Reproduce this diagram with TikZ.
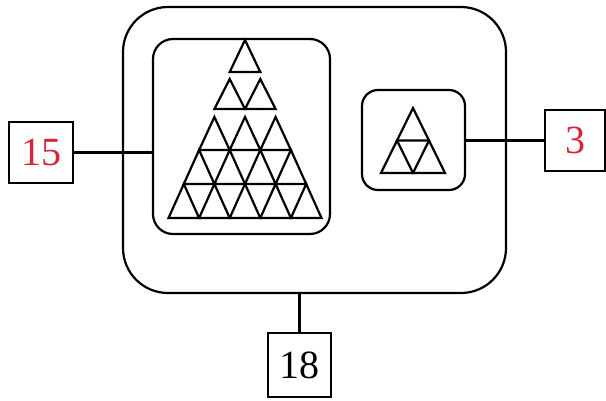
\documentclass[tikz,border=0pt]{standalone}
\usepackage{fontspec}
\setmainfont{Liberation Serif}
\definecolor{numred}{RGB}{212,38,58}
\begin{document}
\begin{tikzpicture}[x=1pt,y=1pt,yscale=-1,
	frame/.style={draw, line width=2.2pt, rounded corners=#1, inner sep=0pt},
	numbox/.style={draw, line width=2.1pt, inner sep=0pt, font=\fontsize{40}{40}\selectfont},
	tri/.style={line width=2.2pt, line join=miter},
	link/.style={line width=2.2pt}]
	\useasboundingbox (0,0) rectangle (606,400);
	% containers
	\node[frame=45pt, minimum width=383pt, minimum height=286pt] (outer) at (314.5,150) {};
	\node[frame=20pt, minimum width=177pt, minimum height=195pt] (bigset) at (241.5,136.5) {};
	\node[frame=16pt, minimum width=103pt, minimum height=100pt] (smallset) at (413.5,140) {};
	% number boxes
	\node[numbox, text=numred, minimum width=64pt, minimum height=61pt] (n15) at (41,152.5) {15};
	\node[numbox, text=numred, minimum width=60pt, minimum height=61pt] (n3) at (575,140.5) {3};
	\node[numbox, minimum width=63pt, minimum height=64pt] (n18) at (299.5,365) {18};
	% triangles, 15
	\foreach \k/\yb/\h in {1/72/32,2/109/30,3/150/33,4/184/34,5/218/34}
		\foreach \i in {1,...,\k}
			\draw[tri] ({245-\k*15.3+(\i-1)*30.6},\yb) -- ++(15.3,-\h) -- ++(15.3,\h) -- cycle;
	% triangles, 3
	\foreach \k/\yb in {1/140.5,2/173}
		\foreach \i in {1,...,\k}
			\draw[tri] ({413-\k*16+(\i-1)*32},\yb) -- ++(16,-32.5) -- ++(16,32.5) -- cycle;
	% connectors
	\draw[link] (n15) -- (n15 -| bigset.west);
	\draw[link] (n3) -- (n3 -| smallset.east);
	\draw[link] (n18) -- (n18 |- outer.south);
\end{tikzpicture}
\end{document}
